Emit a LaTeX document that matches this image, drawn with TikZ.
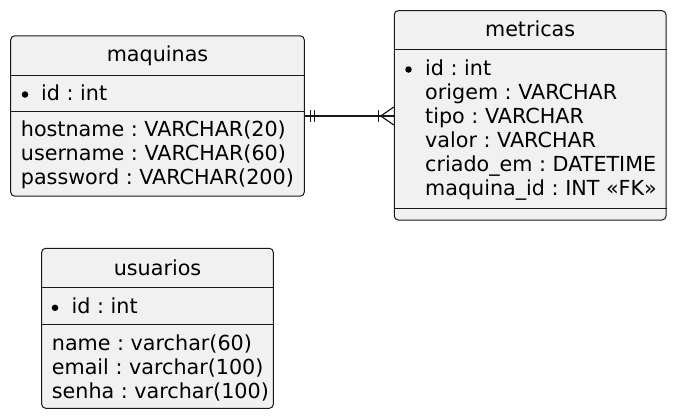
\documentclass[tikz,border=0pt]{standalone}
\usepackage{fontspec}
\setmainfont{DejaVu Sans}
\usetikzlibrary{calc}
\definecolor{boxfill}{HTML}{F1F1F1}
\definecolor{boxline}{HTML}{181818}
\frenchspacing
\begin{document}
\frenchspacing
\begin{tikzpicture}[x=1pt,y=-1pt,
  ent/.style={draw=boxline, fill=boxfill, rounded corners=4pt, line width=1pt, inner sep=0pt},
  txt/.style={anchor=base west, inner sep=0pt, font=\fontsize{20.7}{24}\selectfont, text=black},
  ttl/.style={anchor=base, inner sep=0pt, font=\fontsize{20.7}{24}\selectfont, text=black},
  sepline/.style={draw=boxline, line width=1pt},
  blt/.style={circle, fill=black, draw=none, inner sep=0pt, minimum size=6.5pt},
  conn/.style={draw=boxline, line width=1.2pt}]
\useasboundingbox (0,0) rectangle (675,418);

% maquinas
\node[ent, minimum width=293.6pt, minimum height=160.3pt] (maquinas) at (157.5,116) {};
\node[ttl] (mqt) at (157.5,61) {maquinas};
\draw[sepline] (maquinas.west |- 0,75) -- (maquinas.east |- 0,75);
\node[blt] (mqb) at (25,94.5) {};
\node[txt] (mq1) at (41,100) {id : int};
\draw[sepline] (maquinas.west |- 0,111) -- (maquinas.east |- 0,111);
\node[txt] (mq2) at (20.7,136) {hostname : VARCHAR(20)};
\node[txt] (mq3) at (20.7,160) {username : VARCHAR(60)};
\node[txt] (mq4) at (20.7,184) {password : VARCHAR(200)};

% metricas
\node[ent, minimum width=271.7pt, minimum height=209.3pt] (metricas) at (530.15,115.35) {};
\node[ttl] (mtt) at (530.15,36) {metricas};
\draw[sepline] (metricas.west |- 0,49.3) -- (metricas.east |- 0,49.3);
\node[blt] (mtb) at (408.5,69.5) {};
\node[txt] (mt1) at (425,75) {id : int};
\node[txt] (mt2) at (425,99) {origem : VARCHAR};
\node[txt] (mt3) at (425,123) {tipo : VARCHAR};
\node[txt] (mt4) at (425,147.5) {valor : VARCHAR};
\node[txt] (mt5) at (425,171.5) {criado\_em : DATETIME};
\node[txt] (mt6) at (425,195.5) {maquina\_id : INT «FK»};
\draw[sepline] (metricas.west |- 0,208.3) -- (metricas.east |- 0,208.3);

% usuarios
\node[ent, minimum width=231.6pt, minimum height=160pt] (usuarios) at (157.5,328.3) {};
\node[ttl] (ust) at (157.5,275) {usuarios};
\draw[sepline] (usuarios.west |- 0,287.3) -- (usuarios.east |- 0,287.3);
\node[blt] (usb) at (55,307.8) {};
\node[txt] (us1) at (71.5,313.3) {id : int};
\draw[sepline] (usuarios.west |- 0,324.3) -- (usuarios.east |- 0,324.3);
\node[txt] (us2) at (51.7,350) {name : varchar(60)};
\node[txt] (us3) at (51.7,374.3) {email : varchar(100)};
\node[txt] (us4) at (51.7,398.3) {senha : varchar(100)};

% connector
\coordinate (cend) at (maquinas.east -| metricas.west);
\draw[conn] (maquinas.east) -- (cend);
\draw[conn] ($(maquinas.east)+(6,-6)$) -- ($(maquinas.east)+(6,6)$);
\draw[conn] ($(maquinas.east)+(10,-6)$) -- ($(maquinas.east)+(10,6)$);
\draw[conn] ($(cend)+(-15,-6)$) -- ($(cend)+(-15,6)$);
\draw[conn] ($(cend)+(0,-9)$) -- ($(cend)+(-13,0)$) -- ($(cend)+(0,9)$);
\end{tikzpicture}
\end{document}
